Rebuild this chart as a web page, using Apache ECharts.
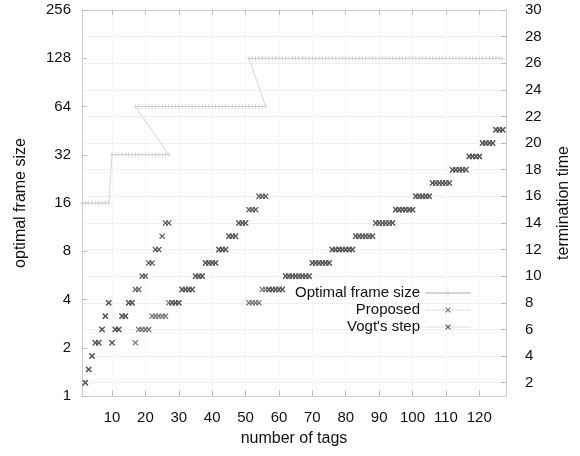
<!DOCTYPE html>
<html>
<head>
<meta charset="utf-8">
<script src="https://cdn.jsdelivr.net/npm/echarts@6/dist/echarts.min.js"></script>
<style>
html,body{margin:0;padding:0;background:#fff;}
#chart{width:580px;height:456px;}
</style>
</head>
<body>
<div id="chart"></div>
<script>
// ---- data ----
const tags = [2,3,4,5,6,7,8,9,10,11,12,13,14,15,16,17,18,19,20,21,22,23,24,25,26,27,28,29,30,31,32,33,34,35,36,37,38,39,40,41,42,43,44,45,46,47,48,49,50,51,52,53,54,55,56,57,58,59,60,61,62,63,64,65,66,67,68,69,70,71,72,73,74,75,76,77,78,79,80,81,82,83,84,85,86,87,88,89,90,91,92,93,94,95,96,97,98,99,100,101,102,103,104,105,106,107,108,109,110,111,112,113,114,115,116,117,118,119,120,121,122,123,124,125,126,127];

const proposed = [2,3,4,5,5,6,7,8,5,6,6,7,7,8,8,
  5,6,6,6,6,7,7,7,7,7,8,8,8,8,9,9,9,9,10,10,10,11,11,11,11,12,12,12,13,13,13,14,14,14,
  8,8,8,8,9,9,9,9,9,9,9,10,10,10,10,10,10,10,10,11,11,11,11,11,11,12,12,12,12,12,12,12,13,13,13,13,13,13,14,14,14,14,14,14,15,15,15,15,15,15,16,16,16,16,16,17,17,17,17,17,17,18,18,18,18,18,19,19,19,19,20,20,20,20,21,21,21];

const vogt = [2,3,4,5,5,6,7,8,5,6,6,7,7,8,8,
  9,9,10,10,11,11,12,12,13,14,14,
  8,8,8,9,9,9,9,10,10,10,11,11,11,11,12,12,12,13,13,13,14,14,14,
  15,15,15,16,16,16,
  9,9,9,9,9,10,10,10,10,10,10,10,10,11,11,11,11,11,11,12,12,12,12,12,12,12,13,13,13,13,13,13,14,14,14,14,14,14,15,15,15,15,15,15,16,16,16,16,16,17,17,17,17,17,17,18,18,18,18,18,19,19,19,19,20,20,20,20,21,21,21];

const optimalTags = [1,2,3,4,5,6,7,8,9,
  10,11,12,13,14,15,16,17,18,19,20,21,22,23,24,25,26,27,
  17,18,19,20,21,22,23,24,25,26,27,28,29,30,31,32,33,34,35,36,37,38,39,40,41,42,43,44,45,46,47,48,49,50,51,52,53,54,55,56,
  51,52,53,54,55,56,57,58,59,60,61,62,63,64,65,66,67,68,69,70,71,72,73,74,75,76,77,78,79,80,81,82,83,84,85,86,87,88,89,90,91,92,93,94,95,96,97,98,99,100,101,102,103,104,105,106,107,108,109,110,111,112,113,114,115,116,117,118,119,120,121,122,123,124,125,126,127];

const optimalSize = [16,16,16,16,16,16,16,16,16,
  32,32,32,32,32,32,32,32,32,32,32,32,32,32,32,32,32,32,
  64,64,64,64,64,64,64,64,64,64,64,64,64,64,64,64,64,64,64,64,64,64,64,64,64,64,64,64,64,64,64,64,64,64,64,64,64,64,64,64,
  128,128,128,128,128,128,128,128,128,128,128,128,128,128,128,128,128,128,128,128,128,128,128,128,128,128,128,128,128,128,128,128,128,128,128,128,128,128,128,128,128,128,128,128,128,128,128,128,128,128,128,128,128,128,128,128,128,128,128,128,128,128,128,128,128,128,128,128,128,128,128,128,128,128,128,128,128];

const xTicks = [10,20,30,40,50,60,70,80,90,100,110,120];
const leftTicks = [1,2,4,8,16,32,64,128,256];
const rightTicks = [2,4,6,8,10,12,14,16,18,20,22,24,26,28,30];

// ---- chart ----
const FONT = "'Liberation Sans', Arial, Helvetica, sans-serif";
const XSYM = 'path://M0,1.4L1.4,0L5,3.6L8.6,0L10,1.4L6.4,5L10,8.6L8.6,10L5,6.4L1.4,10L0,8.6L3.6,5Z';
const PSYM = 'path://M4.3,0H5.7V4.3H10V5.7H5.7V10H4.3V5.7H0V4.3H4.3Z';
const axisColor = '#cfcfcf';
const textColor = '#111';

const chart = echarts.init(document.getElementById('chart'), null, {renderer: 'canvas'});
chart.setOption({
  animation: false,
  backgroundColor: '#ffffff',
  textStyle: {fontFamily: FONT},
  grid: {left: 82, right: 72, top: 10, bottom: 60},
  xAxis: [{
    type: 'value', min: 1, max: 128, position: 'bottom',
    name: 'number of tags', nameLocation: 'middle', nameGap: 35,
    nameTextStyle: {fontSize: 16, color: textColor, fontFamily: FONT},
    axisLine: {show: true, lineStyle: {color: axisColor}},
    axisTick: {show: true, inside: true, length: 5, customValues: xTicks, lineStyle: {color: '#bbb'}},
    axisLabel: {customValues: xTicks, margin: 14, fontSize: 15, color: textColor, fontFamily: FONT},
    splitLine: {show: true, lineStyle: {color: '#efefef', type: 'dotted'}}
  }, {
    type: 'value', min: 1, max: 128, position: 'top',
    axisLine: {show: true, lineStyle: {color: axisColor}},
    axisTick: {show: true, inside: true, length: 5, customValues: xTicks, lineStyle: {color: '#bbb'}},
    axisLabel: {show: false},
    splitLine: {show: false}
  }],
  yAxis: [{
    type: 'log', logBase: 2, min: 1, max: 256, position: 'left',
    name: 'optimal frame size', nameLocation: 'middle', nameGap: 53,
    nameTextStyle: {fontSize: 16, color: textColor, fontFamily: FONT},
    axisLine: {show: true, lineStyle: {color: axisColor}},
    axisTick: {show: true, inside: true, length: 5, customValues: leftTicks, lineStyle: {color: '#bbb'}},
    axisLabel: {customValues: leftTicks, margin: 11, fontSize: 15, color: textColor, fontFamily: FONT},
    minorTick: {show: false},
    splitLine: {show: false}
  }, {
    type: 'value', min: 1, max: 30, position: 'right',
    name: 'termination time', nameLocation: 'middle', nameGap: 50,
    nameTextStyle: {fontSize: 16, color: textColor, fontFamily: FONT},
    axisLine: {show: true, lineStyle: {color: axisColor}},
    axisTick: {show: true, inside: true, length: 5, customValues: rightTicks, lineStyle: {color: '#bbb'}},
    axisLabel: {customValues: rightTicks, margin: 19, fontSize: 15, color: textColor, fontFamily: FONT},
    splitLine: {show: true, lineStyle: {color: '#e4e4e4', type: 'dotted'}}
  }],
  legend: {
    orient: 'vertical', align: 'right', right: 108, top: 285, padding: 0,
    itemWidth: 46, itemHeight: 7, itemGap: 1,
    textStyle: {fontSize: 15, color: textColor, lineHeight: 16, fontFamily: FONT},
    data: [
      {name: 'Optimal frame size'},
      {name: 'Proposed', lineStyle: {opacity: 1, width: 1, color: '#dadada'}},
      {name: "Vogt's step", lineStyle: {opacity: 1, width: 1, color: '#dadada'}}
    ]
  },
  series: [{
    name: 'Optimal frame size', type: 'line', xAxisIndex: 0, yAxisIndex: 0,
    data: optimalTags.map((t, i) => [t, optimalSize[i]]),
    symbol: PSYM, symbolSize: 5, showSymbol: true,
    lineStyle: {color: '#d6d6d6', width: 1},
    itemStyle: {color: '#cacaca'},
    z: 2
  }, {
    name: 'Proposed', type: 'line', xAxisIndex: 0, yAxisIndex: 1,
    data: tags.map((t, i) => [t, proposed[i]]),
    symbol: XSYM, symbolSize: 6, showSymbol: true,
    lineStyle: {opacity: 0},
    itemStyle: {color: '#707070'},
    z: 3
  }, {
    name: "Vogt's step", type: 'line', xAxisIndex: 0, yAxisIndex: 1,
    data: tags.map((t, i) => [t, vogt[i]]),
    symbol: XSYM, symbolSize: 6, showSymbol: true,
    lineStyle: {opacity: 0},
    itemStyle: {color: '#555555'},
    z: 4
  }]
});
</script>
</body>
</html>
